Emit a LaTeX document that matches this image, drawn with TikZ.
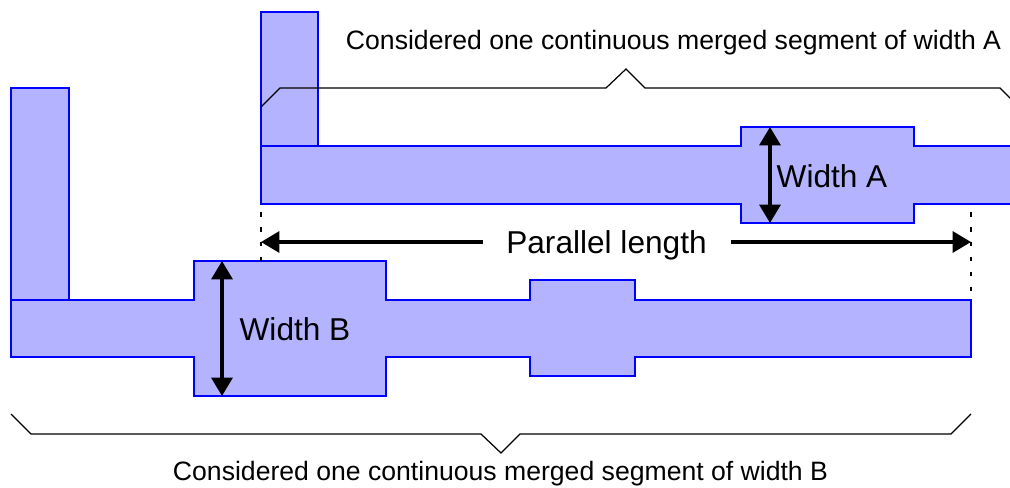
\documentclass[tikz,border=0pt]{standalone}
\usepackage{fontspec}
\setmainfont{Liberation Sans}
\usetikzlibrary{arrows.meta}

\tikzset{
	metal/.style={draw=blue, fill=metalfill, line width=1.3pt, line join=miter},
	brace/.style={draw=black, line width=0.7pt},
	dimarrow/.style={line width=1.9pt, -{Triangle[length=10.5pt, width=12pt]}},
	bothtips/.style={{Triangle[length=10.5pt, width=12pt]}-{Triangle[length=10.5pt, width=12pt]}},
	limit/.style={line width=1.13pt, dash pattern=on 2.6pt off 5.9pt},
	caption/.style={font=\fontsize{15.14}{18}\selectfont, inner sep=0pt},
	dimlabel/.style={font=\fontsize{18}{21}\selectfont, inner sep=0pt}
}
\definecolor{metalfill}{HTML}{B3B3FF}

\begin{document}
\begin{tikzpicture}[x=0.02cm, y=-0.02cm]
		\useasboundingbox (0, 0) rectangle (1010, 487);
		% upper segment
		\filldraw[metal] (261, 12) rectangle (318, 146);
		\filldraw[metal] (261, 146) -- (741, 146) -- (741, 127) -- (914, 127) -- (914, 146) -- (1016, 146)
			-- (1016, 204) -- (914, 204) -- (914, 223) -- (741, 223) -- (741, 204) -- (261, 204) -- cycle;
		% lower segment
		\filldraw[metal] (11, 88) rectangle (69, 300);
		\filldraw[metal] (11, 300) -- (194, 300) -- (194, 261) -- (386, 261) -- (386, 300) -- (530, 300)
			-- (530, 280) -- (635, 280) -- (635, 300) -- (971, 300) -- (971, 357) -- (635, 357) -- (635, 376)
			-- (530, 376) -- (530, 357) -- (386, 357) -- (386, 396) -- (194, 396) -- (194, 357) -- (11, 357) -- cycle;
		% braces
		\draw[brace] (261, 107) -- (280, 88) -- (606, 88) -- (626, 69) -- (645, 88) -- (1000, 88) -- (1012, 100);
		\draw[brace] (11, 414) -- (31, 434) -- (481, 434) -- (501, 453) -- (520, 434) -- (951, 434) -- (971, 414);
		% texts
		\node[caption] (captionA) at (673.5, 42.5) {Considered one continuous merged segment of width A};
		\node[caption] (captionB) at (500.5, 473.5) {Considered one continuous merged segment of width B};
		\node[dimlabel] (labelA) at (832, 176) {Width A};
		\node[dimlabel] (labelB) at (295, 329) {Width B};
		\node[dimlabel] (labelLength) at (606.5, 245) {Parallel length};
		% ends of the dimension arrows
		\coordinate (lengthL) at (261, 242);
		\coordinate (lengthR) at (971, 242);
		\coordinate (startL) at (483, 242);
		\coordinate (startR) at (731, 242);
		\coordinate (topA) at (770, 127);
		\coordinate (bottomA) at (770, 223);
		\coordinate (topB) at (222, 261);
		\coordinate (bottomB) at (222, 396);
		\coordinate (limitLs) at (261, 212);
		\coordinate (limitLe) at (261, 261);
		\coordinate (limitRs) at (971, 212);
		\coordinate (limitRe) at (971, 298);
		\draw[limit] (limitLs) -- (limitLe);
		\draw[limit] (limitRs) -- (limitRe);
		\draw[dimarrow] (startL) -- (lengthL);
		\draw[dimarrow] (startR) -- (lengthR);
		\draw[dimarrow, bothtips] (topA) -- (bottomA);
		\draw[dimarrow, bothtips] (topB) -- (bottomB);
	\end{tikzpicture}
\end{document}
